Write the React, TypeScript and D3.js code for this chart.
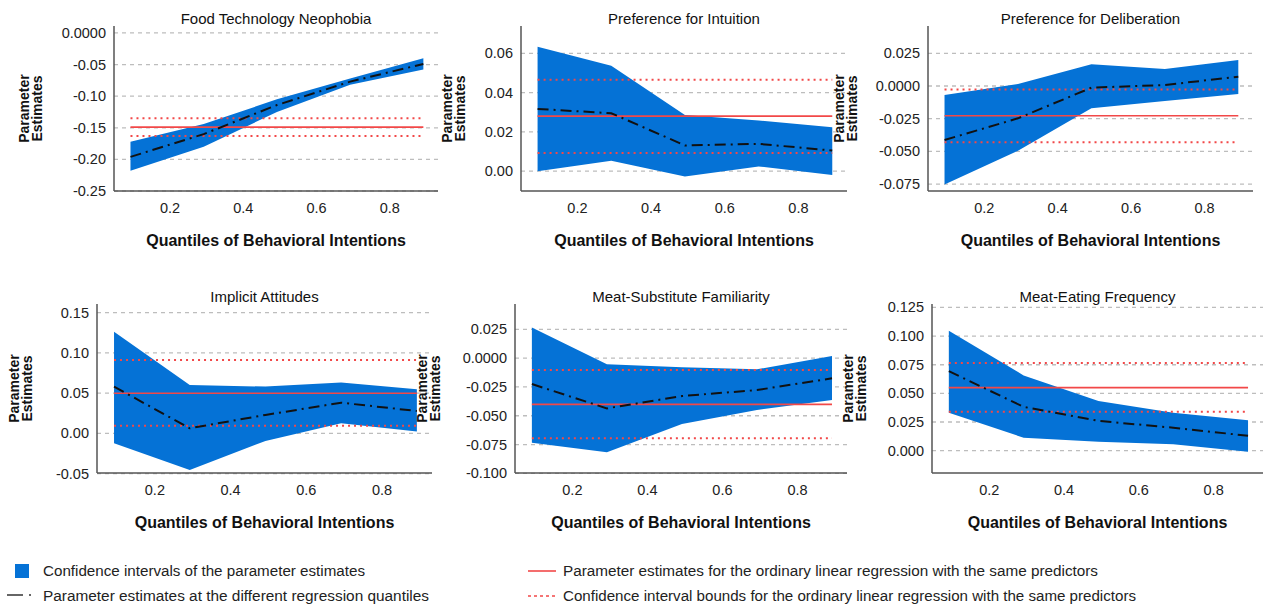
import React from "react";
import * as d3 from "d3";

const width = 1264;
const height = 606;

// quantiles at which the regressions were estimated
const quantiles = [0.1, 0.3, 0.5, 0.7, 0.9];
const xTicks = [0.2, 0.4, 0.6, 0.8];

const titles = [
  "Food Technology Neophobia",
  "Preference for Intuition",
  "Preference for Deliberation",
  "Implicit Attitudes",
  "Meat-Substitute Familiarity",
  "Meat-Eating Frequency",
];

// confidence band of the quantile estimates
const ciUpper = [
  [-0.172, -0.144, -0.105, -0.072, -0.04],
  [0.0634, 0.0537, 0.0286, 0.0258, 0.0224],
  [-0.0069, 0.0015, 0.0166, 0.013, 0.0199],
  [0.126, 0.06, 0.058, 0.063, 0.0547],
  [0.0267, -0.0054, -0.008, -0.0097, 0.0019],
  [0.1047, 0.0657, 0.0434, 0.033, 0.0266],
];
const ciLower = [
  [-0.218, -0.18, -0.125, -0.082, -0.058],
  [0.0, 0.0053, -0.0027, 0.0024, -0.0019],
  [-0.0753, -0.0495, -0.0171, -0.0115, -0.0061],
  [-0.0124, -0.0455, -0.0095, 0.0124, 0.0021],
  [-0.0734, -0.0817, -0.0572, -0.045, -0.0363],
  [0.033, 0.0113, 0.0078, 0.0055, -0.0009],
];
const quantileEst = [
  [-0.196, -0.16, -0.114, -0.077, -0.049],
  [0.0317, 0.0295, 0.0131, 0.0139, 0.0105],
  [-0.0413, -0.0247, -0.0013, 0.0008, 0.0071],
  [0.058, 0.0062, 0.0228, 0.038, 0.0277],
  [-0.0225, -0.0436, -0.0329, -0.0277, -0.0175],
  [0.0694, 0.0382, 0.026, 0.02, 0.013],
];

// ordinary least squares estimate and its bounds
const olsEst = [-0.149, 0.028, -0.0227, 0.0497, -0.0401, 0.055];
const olsLower = [-0.163, 0.0093, -0.0431, 0.0095, -0.0696, 0.0339];
const olsUpper = [-0.135, 0.0466, -0.0026, 0.091, -0.0103, 0.0764];

const yTicks = [
  [0, -0.05, -0.1, -0.15, -0.2, -0.25],
  [0.06, 0.04, 0.02, 0.0],
  [0.025, 0, -0.025, -0.05, -0.075],
  [0.15, 0.1, 0.05, 0.0, -0.05],
  [0.025, 0, -0.025, -0.05, -0.075, -0.1],
  [0.125, 0.1, 0.075, 0.05, 0.025, 0.0],
];
const yTickLabels = [
  ["0.0000", "-0.05", "-0.10", "-0.15", "-0.20", "-0.25"],
  ["0.06", "0.04", "0.02", "0.00"],
  ["0.025", "0.0000", "-0.025", "-0.050", "-0.075"],
  ["0.15", "0.10", "0.05", "0.00", "-0.05"],
  ["0.025", "0.0000", "-0.025", "-0.050", "-0.075", "-0.100"],
  ["0.125", "0.100", "0.075", "0.050", "0.025", "0.000"],
];
const yDomains = [
  [-0.25, 0.011],
  [-0.0101, 0.0739],
  [-0.0803, 0.0459],
  [-0.0493, 0.1606],
  [-0.0997, 0.047],
  [-0.0195, 0.128],
];

const legendItems = [
  "Confidence intervals of the parameter estimates",
  "Parameter estimates at the different regression quantiles",
  "Parameter estimates for the ordinary linear regression with the same predictors",
  "Confidence interval bounds for the ordinary linear regression with the same predictors",
];

// plot boxes
const boxes = [
  { left: 114, right: 438, top: 26, bottom: 191, labelX: 30 },
  { left: 521, right: 847, top: 26, bottom: 191, labelX: 453 },
  { left: 928, right: 1253, top: 26, bottom: 191, labelX: 845 },
  { left: 97, right: 432, top: 304, bottom: 473, labelX: 20 },
  { left: 515, right: 847, top: 304, bottom: 473, labelX: 428 },
  { left: 932, right: 1263, top: 304, bottom: 473, labelX: 854 },
];

const font = "Liberation Sans, Arial, sans-serif";
const blue = "#0572d6";
const red = "#f24848";

const Panel = ({ idx }: { idx: number }) => {
  const b = boxes[idx];
  const x = d3.scaleLinear().domain([0.055, 0.94]).range([b.left, b.right]);
  const y = d3.scaleLinear().domain(yDomains[idx]).range([b.bottom, b.top]);
  const pts = quantiles.map((q, i) => ({
    q,
    lo: ciLower[idx][i],
    hi: ciUpper[idx][i],
    est: quantileEst[idx][i],
  }));
  const area = d3
    .area<any>()
    .x((d) => x(d.q))
    .y0((d) => y(d.lo))
    .y1((d) => y(d.hi));
  const line = d3
    .line<any>()
    .x((d) => x(d.q))
    .y((d) => y(d.est));
  const x0 = x(quantiles[0]);
  const x1 = x(quantiles[quantiles.length - 1]);
  const midY = (b.top + b.bottom) / 2;

  return (
    <g fontFamily={font}>
      {yTicks[idx].map((t, i) => (
        <g key={i}>
          <line
            x1={b.left}
            x2={b.right}
            y1={y(t)}
            y2={y(t)}
            stroke="#bdbdbd"
            strokeWidth={1.3}
            strokeDasharray="4,4"
          />
          <text
            x={b.left - 8}
            y={y(t) + 5}
            textAnchor="end"
            fontSize={14.5}
            fill="#222"
          >
            {yTickLabels[idx][i]}
          </text>
        </g>
      ))}
      <path d={area(pts) || ""} fill={blue} />
      {[olsLower[idx], olsUpper[idx]].map((v, i) => (
        <line
          key={i}
          x1={x0}
          x2={x1}
          y1={y(v)}
          y2={y(v)}
          stroke={red}
          strokeWidth={2}
          strokeDasharray="2,4"
        />
      ))}
      <line
        x1={x0}
        x2={x1}
        y1={y(olsEst[idx])}
        y2={y(olsEst[idx])}
        stroke={red}
        strokeWidth={1.6}
      />
      <path
        d={line(pts) || ""}
        fill="none"
        stroke="#111"
        strokeWidth={2}
        strokeDasharray="11,5,2,5"
      />
      <line x1={b.left} x2={b.left} y1={b.top} y2={b.bottom} stroke="#555" strokeWidth={1.5} />
      <line x1={b.left} x2={b.right} y1={b.bottom} y2={b.bottom} stroke="#555" strokeWidth={1.5} />
      {xTicks.map((t) => (
        <text key={t} x={x(t) + 3} y={b.bottom + 22} textAnchor="middle" fontSize={14.5} fill="#222">
          {t.toFixed(1)}
        </text>
      ))}
      <text x={(b.left + b.right) / 2} y={b.top - 2} textAnchor="middle" fontSize={15} fill="#111">
        {titles[idx]}
      </text>
      <text
        x={(b.left + b.right) / 2}
        y={b.bottom + 55}
        textAnchor="middle"
        fontSize={16}
        fontWeight="bold"
        fill="#111"
      >
        Quantiles of Behavioral Intentions
      </text>
      <text
        transform={`translate(${b.labelX},${midY}) rotate(-90)`}
        textAnchor="middle"
        fontSize={14}
        fontWeight="bold"
        fill="#111"
      >
        <tspan x={0} y={-1}>Parameter</tspan>
        <tspan x={0} y={12}>Estimates</tspan>
      </text>
    </g>
  );
};

const Legend = () => (
  <g fontFamily={font} fontSize={14} fill="#222">
    <rect x={15} y={564} width={14} height={14} fill={blue} />
    <text x={43} y={576} textLength={322} lengthAdjust="spacingAndGlyphs">
      {legendItems[0]}
    </text>
    <line x1={7} x2={23} y1={595} y2={595} stroke="#333" strokeWidth={1.5} />
    <line x1={29} x2={31} y1={595} y2={595} stroke="#333" strokeWidth={1.5} />
    <text x={43} y={601} textLength={386} lengthAdjust="spacingAndGlyphs">
      {legendItems[1]}
    </text>
    <line x1={528} x2={556} y1={571} y2={571} stroke={red} strokeWidth={1.6} />
    <text x={563} y={576} textLength={535} lengthAdjust="spacingAndGlyphs">
      {legendItems[2]}
    </text>
    <line x1={528} x2={556} y1={596} y2={596} stroke={red} strokeWidth={1.5} strokeDasharray="3,3" />
    <text x={563} y={601} textLength={573} lengthAdjust="spacingAndGlyphs">
      {legendItems[3]}
    </text>
  </g>
);

export default function App() {
  return (
    <svg
      width={width}
      height={height}
      style={{ position: "absolute", left: 0, top: 0, background: "#fff" }}
    >
      {boxes.map((_, i) => (
        <Panel key={i} idx={i} />
      ))}
      <Legend />
    </svg>
  );
}
